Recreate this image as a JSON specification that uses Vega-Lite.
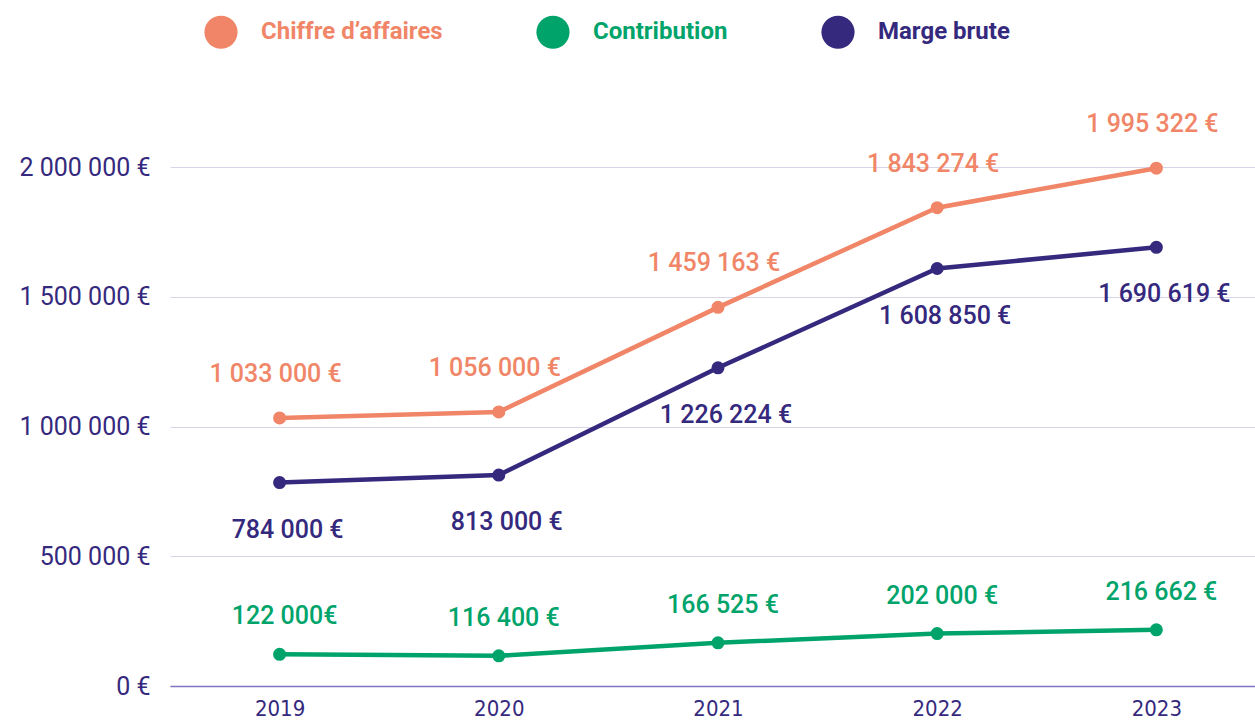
{
  "$schema": "https://vega.github.io/schema/vega-lite/v6.json",
  "width": 1085,
  "height": 519,
  "autosize": {"type": "none"},
  "padding": {"left": 170, "top": 167, "right": 0, "bottom": 36},
  "config": {
    "view": {"stroke": null},
    "locale": {"number": {"decimal": ",", "thousands": " ", "grouping": [3], "currency": ["", " €"]}}
  },
  "data": {
    "values": [
      {"year": 2019, "series": "Chiffre d’affaires", "value": 1033000, "label": "1 033 000 €"},
      {"year": 2020, "series": "Chiffre d’affaires", "value": 1056000, "label": "1 056 000 €"},
      {"year": 2021, "series": "Chiffre d’affaires", "value": 1459163, "label": "1 459 163 €"},
      {"year": 2022, "series": "Chiffre d’affaires", "value": 1843274, "label": "1 843 274 €"},
      {"year": 2023, "series": "Chiffre d’affaires", "value": 1995322, "label": "1 995 322 €"},
      {"year": 2019, "series": "Contribution", "value": 122000, "label": "122 000€"},
      {"year": 2020, "series": "Contribution", "value": 116400, "label": "116 400 €"},
      {"year": 2021, "series": "Contribution", "value": 166525, "label": "166 525 €"},
      {"year": 2022, "series": "Contribution", "value": 202000, "label": "202 000 €"},
      {"year": 2023, "series": "Contribution", "value": 216662, "label": "216 662 €"},
      {"year": 2019, "series": "Marge brute", "value": 784000, "label": "784 000 €"},
      {"year": 2020, "series": "Marge brute", "value": 813000, "label": "813 000 €"},
      {"year": 2021, "series": "Marge brute", "value": 1226224, "label": "1 226 224 €"},
      {"year": 2022, "series": "Marge brute", "value": 1608850, "label": "1 608 850 €"},
      {"year": 2023, "series": "Marge brute", "value": 1690619, "label": "1 690 619 €"}
    ]
  },
  "encoding": {
    "x": {
      "field": "year", "type": "quantitative",
      "scale": {"domain": [2018.5, 2023.45], "nice": false, "zero": false},
      "axis": {
        "title": null, "values": [2019, 2020, 2021, 2022, 2023], "format": "d",
        "grid": false, "ticks": false, "domain": true, "domainColor": "#8075c0", "domainWidth": 1.5,
        "labelFont": "DejaVu Sans Condensed, Roboto", "labelFontSize": 22, "labelColor": "#35297e",
        "labelPadding": 12
      }
    },
    "y": {
      "field": "value", "type": "quantitative",
      "scale": {"domain": [0, 2000000], "nice": false},
      "axis": {
        "title": null, "values": [0, 500000, 1000000, 1500000, 2000000], "format": "$,.0f",
        "grid": true, "gridColor": "#d8d5e8", "gridWidth": 1, "ticks": false, "domain": false,
        "labelFont": "Roboto", "labelFontSize": 25, "labelColor": "#35297e", "labelPadding": 20
      }
    },
    "color": {
      "field": "series", "type": "nominal",
      "scale": {"domain": ["Chiffre d’affaires", "Contribution", "Marge brute"], "range": ["#f08667", "#00a46b", "#35297e"]},
      "legend": {
        "title": null, "orient": "none", "legendX": 34, "legendY": -152, "direction": "horizontal",
        "columnPadding": 93, "symbolType": "circle", "symbolSize": 1100, "symbolStrokeWidth": 0,
        "labelFont": "Roboto", "labelFontSize": 24, "labelFontWeight": "bold", "labelOffset": 23,
        "labelLimit": 400,
        "encode": {
          "labels": {"update": {"fill": {"scale": "color", "field": "value"}}},
          "symbols": {"update": {"fill": {"scale": "color", "field": "value"}, "stroke": {"value": "transparent"}, "opacity": {"value": 1}}}
        }
      }
    }
  },
  "layer": [
    {"mark": {"type": "line", "strokeWidth": 4.5}},
    {"mark": {"type": "point", "filled": true, "size": 170, "opacity": 1}},
    {
      "transform": [{"filter": "datum.series === 'Chiffre d’affaires'"}],
      "mark": {"type": "text", "dy": -44, "dx": -4, "font": "Roboto", "fontSize": 25, "fontWeight": 500, "baseline": "middle"},
      "encoding": {"text": {"field": "label"}}
    },
    {
      "transform": [{"filter": "datum.series === 'Contribution'"}],
      "mark": {"type": "text", "dy": -38, "dx": 5, "font": "Roboto", "fontSize": 25, "fontWeight": 500, "baseline": "middle"},
      "encoding": {"text": {"field": "label"}}
    },
    {
      "transform": [{"filter": "datum.series === 'Marge brute'"}],
      "mark": {"type": "text", "dy": 47, "dx": 8, "font": "Roboto", "fontSize": 25, "fontWeight": 500, "baseline": "middle"},
      "encoding": {"text": {"field": "label"}}
    }
  ]
}
